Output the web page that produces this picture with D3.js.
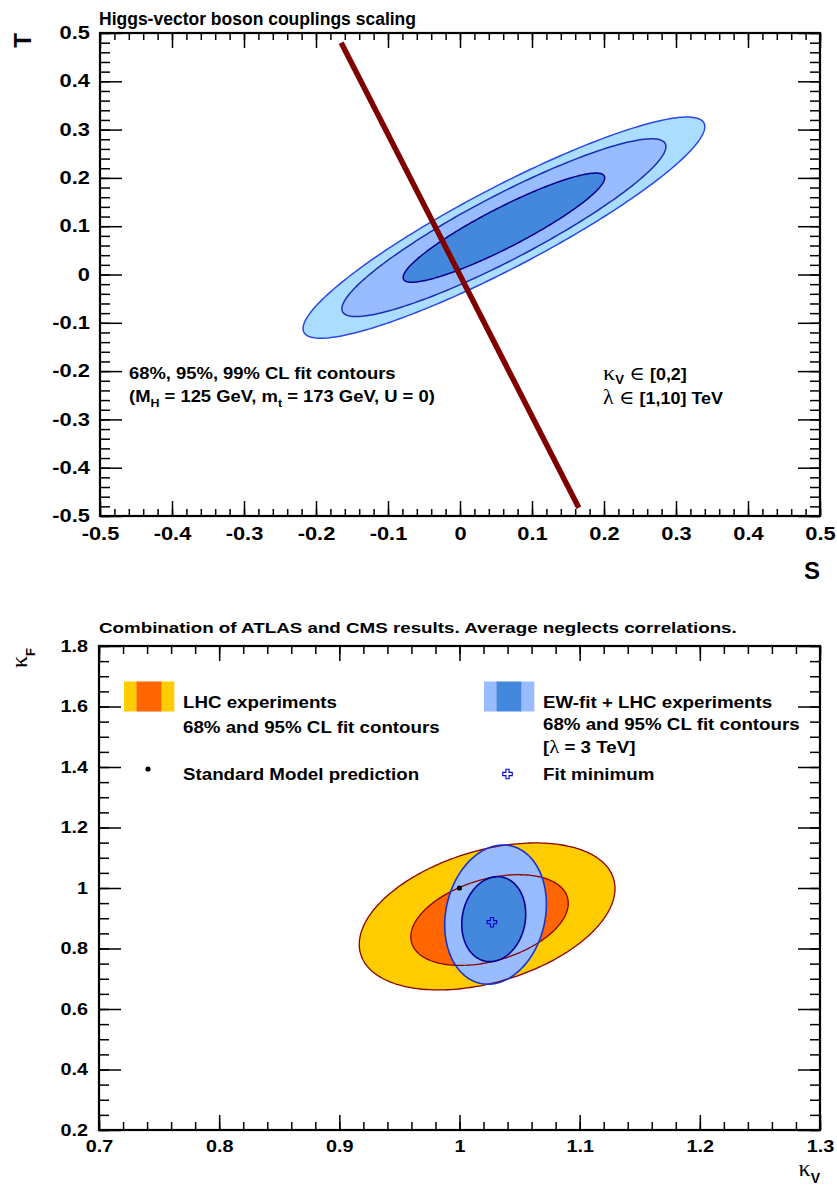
<!DOCTYPE html>
<html><head><meta charset="utf-8">
<script src="https://cdn.jsdelivr.net/npm/d3@7"></script>
<style>
body{margin:0;background:#fff;}
svg{display:block;font-family:"Liberation Sans",Arial,sans-serif;font-weight:bold;}
</style></head><body>
<svg id="c" width="837" height="1191"></svg>
<script>
// ===== Top panel: S,T oblique parameters =====
const stTicksMajor = [-0.5,-0.4,-0.3,-0.2,-0.1,0,0.1,0.2,0.3,0.4,0.5];
const stTickLabels = ["-0.5","-0.4","-0.3","-0.2","-0.1","0","0.1","0.2","0.3","0.4","0.5"];
const stContourCL = ["99%","95%","68%"];
const stCenterS = [0.061,0.061,0.061];
const stCenterT = [0.097,0.097,0.097];
const stHalfS = [0.279,0.225,0.140];
const stHalfT = [0.229,0.184,0.113];
const stRho = [0.912,0.912,0.912];
const kvLineS = [-0.165,0.165];
const kvLineT = [0.480,-0.483];

// ===== Bottom panel: kappa_V vs kappa_F =====
const kvTicks = [0.7,0.8,0.9,1.0,1.1,1.2,1.3];
const kvTickLabels = ["0.7","0.8","0.9","1","1.1","1.2","1.3"];
const kfTicks = [0.2,0.4,0.6,0.8,1.0,1.2,1.4,1.6,1.8];
const kfTickLabels = ["0.2","0.4","0.6","0.8","1","1.2","1.4","1.6","1.8"];
const lhcCL = ["95%","68%"];
const lhcCenterV = [1.023,1.025];
const lhcCenterF = [0.906,0.894];
const lhcHalfV = [0.1064,0.0655];
const lhcHalfF = [0.243,0.150];
const lhcRho = [0.38,0.37];
const ewCL = ["95%","68%"];
const ewCenterV = [1.030,1.0285];
const ewCenterF = [0.912,0.897];
const ewHalfV = [0.0423,0.0266];
const ewHalfF = [0.230,0.1405];
const ewRho = [0.15,0.12];
const smPoint = [1.0,1.0];
const fitMinimum = [1.027,0.887];

const svg = d3.select("#c");
const SANS = '"Liberation Sans",Arial,sans-serif';
const SERIF = '"Liberation Serif","DejaVu Serif",serif';

function ellipsePts(cx,cy,a,b,rho){
  const n=240, s=Math.sqrt(1-rho*rho);
  return d3.range(n).map(i=>{const t=2*Math.PI*i/n;
    return [cx+a*Math.cos(t), cy+b*(rho*Math.cos(t)+s*Math.sin(t))];});
}

// text helper: parts = [{t,size,serif,normal,dy}]
function txt(x,y,parts,opt={}){
  const sx = opt.sx||1;
  let tr = `translate(${x},${y})`;
  if(opt.rot) tr += ` rotate(${opt.rot})`;
  tr += ` scale(${sx},1)`;
  const t = svg.append("text").attr("transform",tr)
    .attr("text-anchor",opt.anchor||"start").attr("fill","#000");
  parts.forEach(p=>{
    t.append("tspan").text(p.t)
      .attr("font-size",p.size)
      .attr("font-family",p.serif?SERIF:SANS)
      .attr("font-weight",p.normal?"normal":"bold")
      .attr("dy",p.dy||0);
  });
  return t;
}

function axes(x,y,o){
  const [xa,xb]=x.range(), [ya,yb]=y.range();
  const g = svg.append("g");
  const style = sel=>{sel.select(".domain").remove();
    sel.attr("font-size",null).attr("font-family",null);
    sel.selectAll("line").attr("stroke","#000").attr("stroke-width",1.5);};
  const b = g.append("g").attr("transform",`translate(0,${ya})`)
    .call(d3.axisBottom(x).tickValues(o.xMajor).tickSize(-o.xLen).tickSizeOuter(0)
      .tickPadding(o.xPad).tickFormat((d,i)=>o.xLabels[i]));
  style(b);
  b.selectAll("text").attr("font-size",o.fs).attr("font-family",SANS).attr("font-weight","bold")
    .attr("fill","#000").attr("transform",`scale(${o.lsx},1)`);
  g.append("g").attr("transform",`translate(0,${ya})`)
    .call(d3.axisBottom(x).tickValues(o.xMinor).tickSize(-o.xLenMinor).tickSizeOuter(0).tickFormat(""))
    .call(style);
  g.append("g").attr("transform",`translate(0,${yb})`)
    .call(d3.axisTop(x).tickValues(o.xMajor).tickSize(-o.xLen).tickSizeOuter(0).tickFormat(""))
    .call(style);
  g.append("g").attr("transform",`translate(0,${yb})`)
    .call(d3.axisTop(x).tickValues(o.xMinor).tickSize(-o.xLenMinor).tickSizeOuter(0).tickFormat(""))
    .call(style);
  const l = g.append("g").attr("transform",`translate(${xa},0)`)
    .call(d3.axisLeft(y).tickValues(o.yMajor).tickSize(-o.yLen).tickSizeOuter(0)
      .tickPadding(o.yPad).tickFormat((d,i)=>o.yLabels[i]));
  style(l);
  l.selectAll("text").attr("font-size",o.fs).attr("font-family",SANS).attr("font-weight","bold")
    .attr("fill","#000").attr("x",-o.yPad/o.lsx).attr("transform",`scale(${o.lsx},1)`);
  g.append("g").attr("transform",`translate(${xa},0)`)
    .call(d3.axisLeft(y).tickValues(o.yMinor).tickSize(-o.yLenMinor).tickSizeOuter(0).tickFormat(""))
    .call(style);
  g.append("g").attr("transform",`translate(${xb},0)`)
    .call(d3.axisRight(y).tickValues(o.yMajor).tickSize(-o.yLen).tickSizeOuter(0).tickFormat(""))
    .call(style);
  g.append("g").attr("transform",`translate(${xb},0)`)
    .call(d3.axisRight(y).tickValues(o.yMinor).tickSize(-o.yLenMinor).tickSizeOuter(0).tickFormat(""))
    .call(style);
  g.append("rect").attr("x",xa).attr("y",yb).attr("width",xb-xa).attr("height",ya-yb)
    .attr("fill","none").attr("stroke","#000").attr("stroke-width",2.2);
}

// ================= TOP PANEL =================
const xS = d3.scaleLinear().domain([-0.5,0.5]).range([100,820]);
const yT = d3.scaleLinear().domain([-0.5,0.5]).range([516,33]);
const lineST = d3.line().x(d=>xS(d[0])).y(d=>yT(d[1])).curve(d3.curveLinearClosed);
const stFill = ["#aaddff","#99bbff","#4488dd"];
const stStroke = ["#2a48e6","#1a2fb0","#00008c"];
const gTop = svg.append("g");
stContourCL.forEach((cl,i)=>{
  gTop.append("path").attr("d",lineST(ellipsePts(stCenterS[i],stCenterT[i],stHalfS[i],stHalfT[i],stRho[i])))
    .attr("fill",stFill[i]).attr("stroke",stStroke[i]).attr("stroke-width",1.5);
});
gTop.append("path")
  .attr("d",d3.line().x(d=>xS(d[0])).y(d=>yT(d[1]))(kvLineS.map((s,i)=>[s,kvLineT[i]])))
  .attr("stroke","#800000").attr("stroke-width",5.5).attr("fill","none");

const minor = (a,b,st)=>d3.range(Math.round((b-a)/st)+1).map(i=>+(a+i*st).toFixed(4));
axes(xS,yT,{xMajor:stTicksMajor,xMinor:minor(-0.5,0.5,0.02),xLabels:stTickLabels,xLen:15,xLenMinor:7,xPad:12,
  yMajor:stTicksMajor,yMinor:minor(-0.5,0.5,0.02),yLabels:stTickLabels,yLen:22,yLenMinor:10,yPad:10,fs:17.5,lsx:1.25});

txt(99,25,[{t:"Higgs-vector boson couplings scaling",size:17.5}],{sx:1.0});
txt(31,33,[{t:"T",size:24}],{rot:-90,anchor:"end"});
txt(820,579,[{t:"S",size:24}],{anchor:"end"});
txt(129,379,[{t:"68%, 95%, 99% CL fit contours",size:16.3}],{sx:1.13});
txt(129,402,[{t:"(M",size:16.3},{t:"H",size:11,dy:5},{t:" = 125 GeV, m",size:16.3,dy:-5},
  {t:"t",size:11,dy:5},{t:" = 173 GeV, U = 0)",size:16.3,dy:-5}],{sx:1.13});
txt(603,380,[{t:"κ",size:22,serif:true,normal:true},{t:"V",size:12,dy:4},
  {t:" ∈ ",size:19,serif:true,normal:true,dy:-4},{t:"[0,2]",size:16.3}],{sx:1.1});
txt(603,404,[{t:"λ",size:20,serif:true,normal:true},{t:" ∈ ",size:19,serif:true,normal:true},
  {t:"[1,10] TeV",size:16.3}],{sx:1.1});

// ================= BOTTOM PANEL =================
const xV = d3.scaleLinear().domain([0.7,1.3]).range([99,820]);
const yF = d3.scaleLinear().domain([0.2,1.8]).range([1130,646]);
const lineVF = d3.line().x(d=>xV(d[0])).y(d=>yF(d[1])).curve(d3.curveLinearClosed);
const lhcFill = ["#ffcc00","#ff6600"];
const ewFill = ["#99bbff","#4488dd"];
const ewStroke = ["#1a33cc","#000099"];
const gB = svg.append("g");
lhcCL.forEach((cl,i)=>{
  gB.append("path").attr("d",lineVF(ellipsePts(lhcCenterV[i],lhcCenterF[i],lhcHalfV[i],lhcHalfF[i],lhcRho[i])))
    .attr("fill",lhcFill[i]).attr("stroke","none");
});
ewCL.forEach((cl,i)=>{
  gB.append("path").attr("d",lineVF(ellipsePts(ewCenterV[i],ewCenterF[i],ewHalfV[i],ewHalfF[i],ewRho[i])))
    .attr("fill",ewFill[i]).attr("stroke","none");
});
lhcCL.forEach((cl,i)=>{
  gB.append("path").attr("d",lineVF(ellipsePts(lhcCenterV[i],lhcCenterF[i],lhcHalfV[i],lhcHalfF[i],lhcRho[i])))
    .attr("fill","none").attr("stroke","#8b0000").attr("stroke-width",1.3);
});
ewCL.forEach((cl,i)=>{
  gB.append("path").attr("d",lineVF(ellipsePts(ewCenterV[i],ewCenterF[i],ewHalfV[i],ewHalfF[i],ewRho[i])))
    .attr("fill","none").attr("stroke",ewStroke[i]).attr("stroke-width",1.6);
});
gB.append("circle").attr("cx",xV(smPoint[0])).attr("cy",yF(smPoint[1])).attr("r",2.6).attr("fill","#000");
const crossSym = d3.symbol().type(d3.symbolCross).size(50);
gB.append("path").attr("d",crossSym()).attr("transform",`translate(${xV(fitMinimum[0])},${yF(fitMinimum[1])})`)
  .attr("fill","none").attr("stroke","#0000cc").attr("stroke-width",1.1);

axes(xV,yF,{xMajor:kvTicks,xMinor:minor(0.7,1.3,0.02),xLabels:kvTickLabels,xLen:15,xLenMinor:8,xPad:10,
  yMajor:kfTicks,yMinor:minor(0.2,1.8,0.05),yLabels:kfTickLabels,yLen:22,yLenMinor:10,yPad:11,fs:16.5,lsx:1.2});

txt(99,632.7,[{t:"Combination of ATLAS and CMS results. Average neglects correlations.",size:15.4}],{sx:1.22});
txt(27,648,[{t:"κ",size:24,serif:true,normal:true},{t:"F",size:13,dy:8}],{rot:-90,anchor:"end"});
txt(820,1176,[{t:"κ",size:24,serif:true,normal:true},{t:"V",size:14,dy:7}],{anchor:"end"});

// legend
const swW=[12.5,25,12.5];
function swatch(x0,y0,cols){
  let x=x0;
  cols.forEach((c,i)=>{svg.append("rect").attr("x",x).attr("y",y0).attr("width",swW[i]+0.3).attr("height",30).attr("fill",c); x+=swW[i];});
}
swatch(124,681.5,[lhcFill[0],lhcFill[1],lhcFill[0]]);
swatch(484,681.5,[ewFill[0],ewFill[1],ewFill[0]]);
txt(183,707.7,[{t:"LHC experiments",size:16.3}],{sx:1.15});
txt(183,733,[{t:"68% and 95% CL fit contours",size:16.3}],{sx:1.15});
txt(543,707.7,[{t:"EW-fit + LHC experiments",size:16.3}],{sx:1.15});
txt(543,730,[{t:"68% and 95% CL fit contours",size:16.3}],{sx:1.15});
txt(543,753,[{t:"[",size:16.3},{t:"λ",size:18,serif:true,normal:true},{t:" = 3 TeV]",size:16.3}],{sx:1.15});
svg.append("circle").attr("cx",148).attr("cy",769).attr("r",2.6).attr("fill","#000");
txt(183,780,[{t:"Standard Model prediction",size:16.3}],{sx:1.15});
svg.append("path").attr("d",crossSym()).attr("transform","translate(507.5,774)")
  .attr("fill","none").attr("stroke","#0000cc").attr("stroke-width",1.1);
txt(543,780,[{t:"Fit minimum",size:16.3}],{sx:1.15});
</script>
</body></html>
